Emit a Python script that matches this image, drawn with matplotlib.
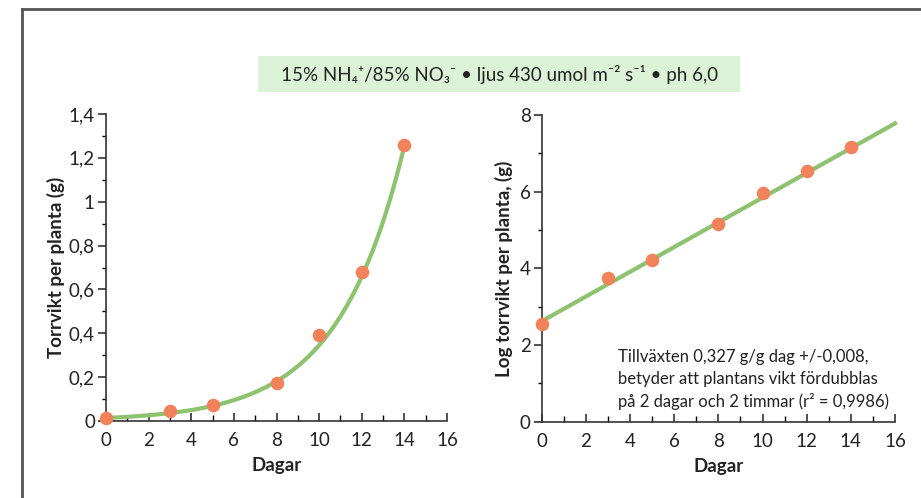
import numpy as np
import matplotlib.pyplot as plt
from matplotlib.patches import Rectangle
from matplotlib.lines import Line2D

plt.rcParams['font.family'] = ['Lato', 'DejaVu Sans']

# data
days = [0, 3, 5, 8, 10, 12, 14]
dry_weight = [0.013, 0.044, 0.072, 0.173, 0.39, 0.68, 1.259]   # g per plant
log_weight = [2.54, 3.76, 4.22, 5.15, 5.97, 6.54, 7.16]       # ln(mg) per plant
fit_intercept = 2.62
fit_slope = 0.3225

left_yticks = [0, 0.2, 0.4, 0.6, 0.8, 1, 1.2, 1.4]
left_ylabels = ['0', '0,2', '0,4', '0,6', '0,8', '1', '1,2', '1,4']
right_yticks = [0, 2, 4, 6, 8]
xticks = [0, 2, 4, 6, 8, 10, 12, 14, 16]

line_col = '#8dc26f'
dot_col = '#f2825a'
txt_col = '#222222'

fig = plt.figure(figsize=(9.21, 4.98), dpi=100)

# frame lines (left and top)
fig.add_artist(Line2D([22/921, 22/921], [0, 1 - 9/498], transform=fig.transFigure,
                      color='#555555', lw=2))
fig.add_artist(Line2D([22/921, 1], [1 - 9/498, 1 - 9/498], transform=fig.transFigure,
                      color='#555555', lw=2))

# green title box
fig.add_artist(Rectangle((258/921, 1 - 92/498), (740 - 258)/921, 36/498,
                         transform=fig.transFigure, color='#dcf2d6', lw=0))
fig.text(500/921, 1 - 75/498,
         '15% NH\u2084\u207a/85% NO\u2083\u207b \u2022 ljus 430 umol m\u207b\u00b2 s\u207b\u00b9 \u2022 ph 6,0',
         ha='center', va='center', fontsize=13.5, color=txt_col)


def style(ax):
    for s in ['top', 'right']:
        ax.spines[s].set_visible(False)
    for s in ['left', 'bottom']:
        ax.spines[s].set_color('#333333')
        ax.spines[s].set_linewidth(1.2)
    ax.set_xlim(0, 16)
    ax.set_xticks(xticks)
    ax.set_xticks(np.arange(0, 17, 1), minor=True)
    ax.tick_params(axis='x', direction='in', length=6, width=1.2, labelsize=13.5,
                   pad=8, colors='#333333', labelcolor=txt_col)
    ax.tick_params(axis='x', which='minor', direction='in', length=4, width=1)
    ax.tick_params(axis='y', direction='out', length=6, width=1.2, labelsize=13.5,
                   pad=2, colors='#333333', labelcolor=txt_col)
    ax.tick_params(axis='y', which='minor', direction='out', length=3, width=1)
    ax.set_xlabel('Dagar', fontsize=13.5, fontweight='bold', color=txt_col, labelpad=6)


# left: dry weight
ax1 = fig.add_axes([106/921, 1 - 421/498, (447 - 106)/921, (421 - 114)/498])
style(ax1)
ax1.set_ylim(0, 1.4)
ax1.set_yticks(left_yticks)
ax1.set_yticklabels(left_ylabels)
ax1.set_yticks(np.arange(0, 1.41, 0.1), minor=True)
xs = np.linspace(0, 14, 200)
ax1.plot(xs, np.exp(fit_intercept + fit_slope * xs) / 1000, color=line_col, lw=3,
         clip_on=False, zorder=2)
ax1.scatter(days, dry_weight, s=95, color=dot_col, zorder=3, clip_on=False, lw=0)
ax1.set_ylabel('Torrvikt per planta (g)', fontsize=13.5, fontweight='bold',
               color=txt_col, labelpad=3)

# right: log weight
ax2 = fig.add_axes([541.7/921, 1 - 421.7/498, (895 - 541.7)/921, (421.7 - 115)/498])
style(ax2)
ax2.set_ylim(0, 8)
ax2.set_yticks(right_yticks)
ax2.set_yticks(np.arange(0, 9, 1), minor=True)
xl = np.array([0, 16])
ax2.plot(xl, fit_intercept + fit_slope * xl, color=line_col, lw=3, clip_on=False, zorder=2)
ax2.scatter(days, log_weight, s=95, color=dot_col, zorder=3, clip_on=False, lw=0)
ax2.set_ylabel('Log torrvikt per planta, (g)', fontsize=13.5, fontweight='bold',
               color=txt_col, labelpad=5)
ax2.text(3.45, 0.3,
         'Tillväxten 0,327 g/g dag +/-0,008,\nbetyder att plantans vikt fördubblas\n'
         'på 2 dagar och 2 timmar (r\u00b2 = 0,9986)',
         fontsize=12, color=txt_col, linespacing=1.45, va='bottom', ha='left')

fig.savefig('out.png', dpi=100)
